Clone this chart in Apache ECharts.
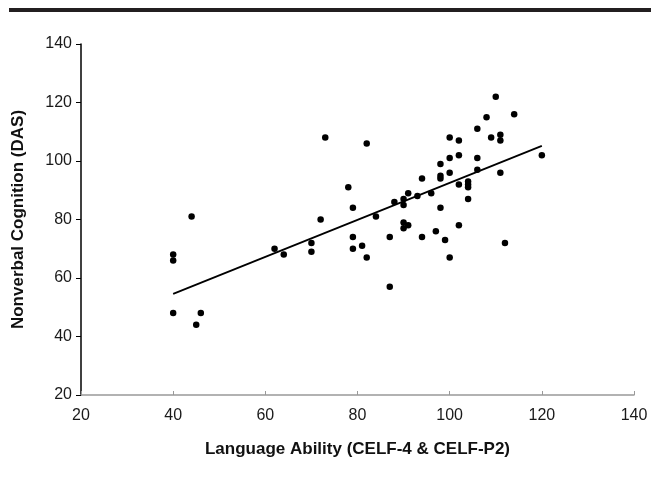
<!DOCTYPE html>
<html>
<head>
<meta charset="utf-8">
<script src="https://cdn.jsdelivr.net/npm/echarts@6/dist/echarts.min.js"></script>
<style>
  html, body { margin: 0; padding: 0; background: #fff; }
  #chart { width: 651px; height: 482px; }
</style>
</head>
<body>
<div id="chart"></div>
<script>
// language ability (x) / nonverbal cognition (y)
const language = [
  40, 40, 40, 44, 45, 46,
  62, 64, 70, 70, 72, 73,
  78, 79, 79, 79, 81, 82, 82, 84,
  87, 87, 88, 90, 90, 90, 90, 91, 91, 93,
  94, 94, 96, 97, 98, 98, 98, 98, 99,
  100, 100, 100, 100, 102, 102, 102, 102,
  104, 104, 104, 104, 106, 106, 106,
  108, 109, 110, 111, 111, 111, 112, 114, 120
];
const cognition = [
  68, 66, 48, 81, 44, 48,
  70, 68, 72, 69, 80, 108,
  91, 84, 74, 70, 71, 67, 106, 81,
  74, 57, 86, 87, 85, 79, 77, 89, 78, 88,
  94, 74, 89, 76, 99, 95, 94, 84, 73,
  108, 101, 96, 67, 107, 102, 92, 78,
  93, 92, 91, 87, 111, 101, 97,
  115, 108, 122, 109, 107, 96, 72, 116, 102
];
// fitted line end points
const fitX = [40, 120];
const fitY = [54.6, 105.2];

const xTicks = [20, 140];
const yTicks = [20, 140];

const points = language.map((v, i) => [v, cognition[i]]);
const fitLine = fitX.map((v, i) => [v, fitY[i]]);

const myChart = echarts.init(document.getElementById('chart'));
const font = 'Liberation Sans, Arial, sans-serif';

let option = {
  backgroundColor: '#fff',
  animation: false,
  graphic: [
    {
      type: 'rect',
      shape: { x: 9, y: 8, width: 642, height: 4 },
      style: { fill: '#231f20' }
    }
  ],
  grid: {
    left: 81,
    right: 17,
    top: 44,
    bottom: 87
  },
  xAxis: {
    type: 'value',
    min: xTicks[0],
    max: xTicks[1],
    interval: 20,
    name: 'Language Ability (CELF-4 & CELF-P2)',
    nameLocation: 'middle',
    nameGap: 46,
    nameTextStyle: {
      fontFamily: font,
      fontWeight: 'bold',
      fontSize: 17,
      color: '#111'
    },
    axisLine: { show: true, lineStyle: { color: '#999', width: 1.5 } },
    axisTick: { show: true, inside: true, length: 4, lineStyle: { color: '#999' } },
    splitLine: { show: false },
    axisLabel: {
      fontFamily: font,
      fontSize: 16,
      color: '#1a1a1a',
      margin: 13
    }
  },
  yAxis: {
    type: 'value',
    min: yTicks[0],
    max: yTicks[1],
    interval: 20,
    name: 'Nonverbal Cognition (DAS)',
    nameLocation: 'middle',
    nameGap: 54,
    nameTextStyle: {
      fontFamily: font,
      fontWeight: 'bold',
      fontSize: 17,
      color: '#111'
    },
    axisLine: { show: true, lineStyle: { color: '#000', width: 1.5 } },
    axisTick: { show: true, length: 5, lineStyle: { color: '#000' } },
    splitLine: { show: false },
    axisLabel: {
      fontFamily: font,
      fontSize: 16,
      color: '#1a1a1a',
      margin: 9
    }
  },
  series: [
    {
      type: 'scatter',
      data: points,
      symbol: 'circle',
      symbolSize: 6.5,
      itemStyle: { color: '#000', opacity: 1 }
    },
    {
      type: 'line',
      data: fitLine,
      symbol: 'none',
      lineStyle: { color: '#000', width: 1.8 }
    }
  ]
};
myChart.setOption(option, true);
</script>
</body>
</html>
